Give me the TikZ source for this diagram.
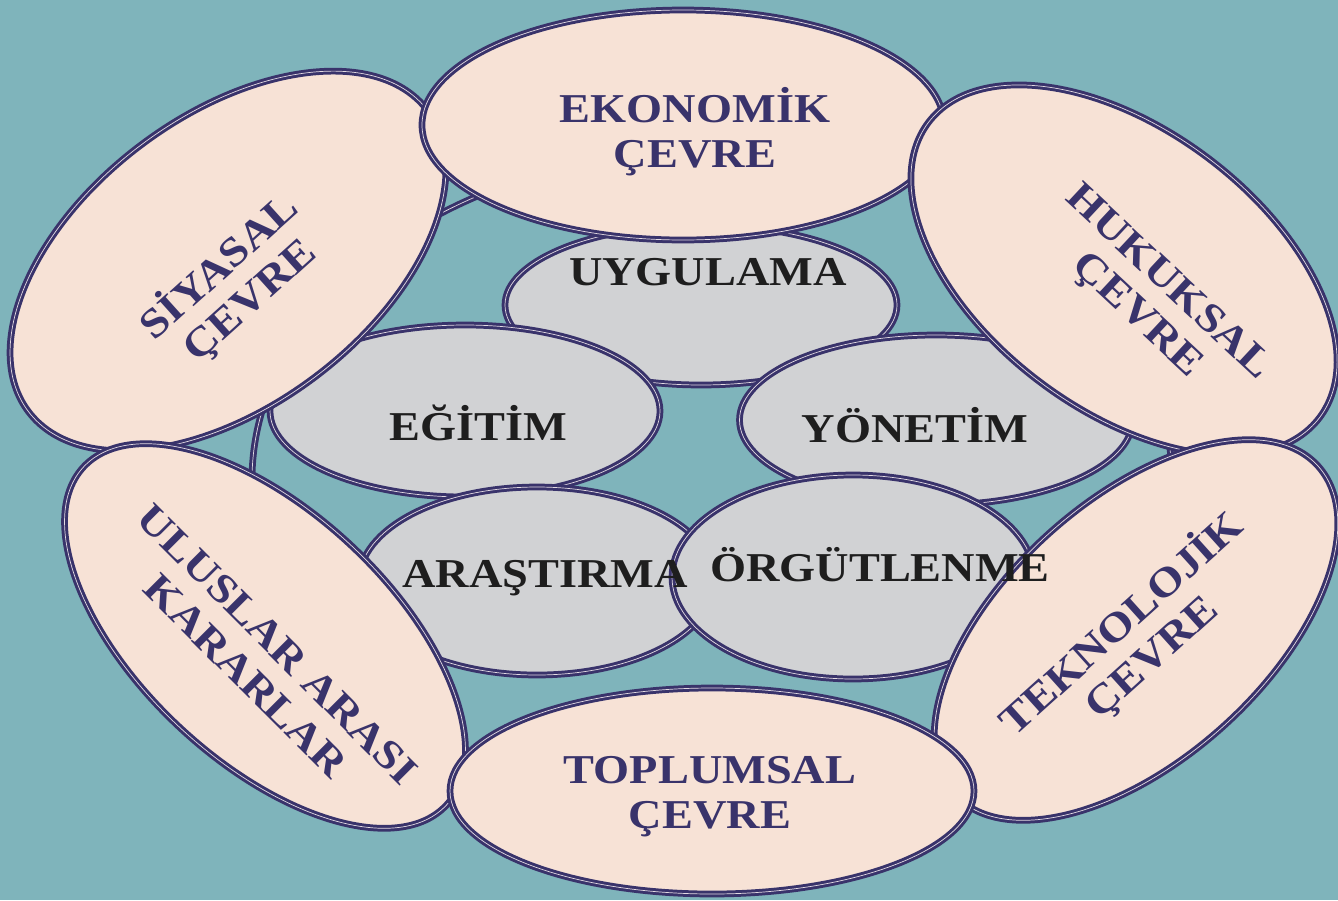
\documentclass[tikz,border=0pt]{standalone}
\usepackage{fontspec}
\setmainfont{Liberation Serif}[FakeStretch=1.13]
\usetikzlibrary{shapes.geometric}
\definecolor{bg}{HTML}{7FB4BB}
\definecolor{peach}{HTML}{F7E2D6}
\definecolor{grayf}{HTML}{D1D2D4}
\definecolor{navy}{HTML}{39336B}
\definecolor{ink}{HTML}{1E1E1E}
\definecolor{pale}{HTML}{E2DAE2}
\begin{document}
\begin{tikzpicture}[x=1pt,y=-1pt,
 ell/.style={ellipse, draw=navy, line width=3pt, double=pale, double distance=0.7pt, inner sep=0pt, outer sep=0pt},
 pe/.style={ell, fill=peach},
 gr/.style={ell, fill=grayf},
 lbl/.style={font=\bfseries\fontsize{41}{45}\selectfont, align=center, inner sep=0pt},
 pl/.style={lbl, text=navy},
 gl/.style={lbl, text=ink}]
\fill[bg] (0,0) rectangle (1338,900);
\useasboundingbox (0,0) rectangle (1338,900);
% background ring
\node[ell, minimum width=920pt, minimum height=660pt] (ring) at (712,480) {};
% gray ellipses
\node[gr, minimum width=392pt, minimum height=160pt] (uyg) at (701,305) {};
\node[gr, minimum width=390pt, minimum height=172pt] (egi) at (465,411) {};
\node[gr, minimum width=393pt, minimum height=170pt] (yon) at (936,420) {};
\node[gr, minimum width=356pt, minimum height=188pt] (ara) at (537,581) {};
\node[gr, minimum width=362pt, minimum height=204pt] (org) at (853,577) {};
% peach ellipses
\node[pe, minimum width=500pt, minimum height=290pt, rotate=37] (siy) at (228,261) {};
\node[pe, minimum width=496pt, minimum height=250pt, rotate=-43] (ulu) at (265,636) {};
\node[pe, minimum width=522pt, minimum height=230pt] (eko) at (683,125) {};
\node[pe, minimum width=490pt, minimum height=280pt, rotate=-37] (huk) at (1124,270) {};
\node[pe, minimum width=490pt, minimum height=260pt, rotate=42] (tek) at (1136,630) {};
\node[pe, minimum width=524pt, minimum height=206pt] (top) at (712,791) {};
% labels
\node[pl] (teko) at (695,132) {EKONOMİK\\ÇEVRE};
\node[pl, rotate=42] (tsiy) at (234,283) {SİYASAL\\ÇEVRE};
\node[pl, rotate=-43] (thuk) at (1152,300) {HUKUKSAL\\ÇEVRE};
\node[pl, rotate=-45] (tulu) at (262,660) {ULUSLAR ARASI\\KARARLAR};
\node[pl, rotate=42] (ttek) at (1136,640) {TEKNOLOJİK\\ÇEVRE};
\node[pl] (ttop) at (710,797) {TOPLUMSAL\\ÇEVRE};
\node[gl] (tuyg) at (708,272) {UYGULAMA};
\node[gl] (tegi) at (478,423) {EĞİTİM};
\node[gl] (tyon) at (915,425) {YÖNETİM};
\node[gl] (tara) at (545,578) {ARAŞTIRMA};
\node[gl] (torg) at (880,565) {ÖRGÜTLENME};
\end{tikzpicture}
\end{document}
